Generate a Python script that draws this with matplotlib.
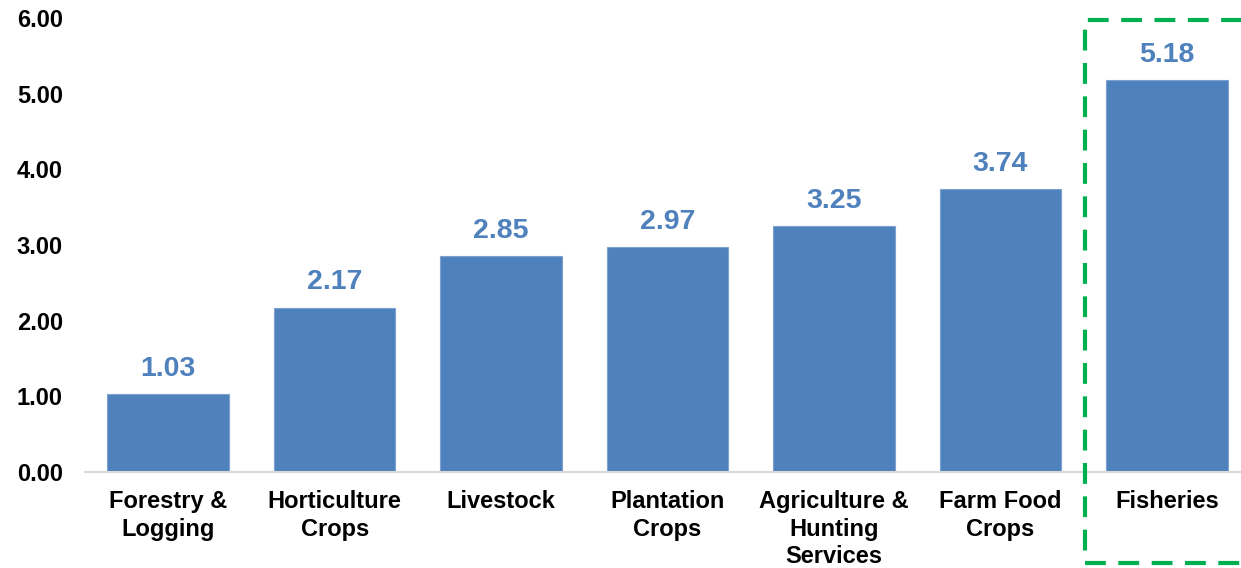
import matplotlib
matplotlib.use("Agg")
import matplotlib.pyplot as plt
from matplotlib.patches import Rectangle

categories = ["Forestry &\nLogging", "Horticulture\nCrops", "Livestock", "Plantation\nCrops",
              "Agriculture &\nHunting\nServices", "Farm Food\nCrops", "Fisheries"]
values = [1.03, 2.17, 2.85, 2.97, 3.25, 3.74, 5.18]
yticks = [0, 1, 2, 3, 4, 5, 6]

bar_color = "#4F81BD"
plt.rcParams["font.family"] = ["Liberation Sans", "DejaVu Sans"]

fig = plt.figure(figsize=(12.41, 5.68), dpi=100)
ax = fig.add_axes([85 / 1241, 1 - 472 / 568, (1250 - 85) / 1241, (472 - 18) / 568])

x = list(range(len(values)))
ax.bar(x, values, width=0.73, color=bar_color, edgecolor="#7EA2CF", linewidth=0.8, zorder=2)

for xi, v in zip(x, values):
    ax.annotate(f"{v:.2f}", (xi, v), xytext=(0, 9), textcoords="offset points",
                ha="center", va="bottom", fontsize=20.5, fontweight="bold", color=bar_color)

ax.set_xlim(-0.5, 6.5)
ax.set_ylim(0, 6)
ax.set_yticks(yticks)
ax.set_yticklabels([f"{t:.2f}" for t in yticks], fontsize=17, fontweight="bold")
ax.set_xticks(x)
ax.set_xticklabels(categories, fontsize=17, fontweight="bold", linespacing=1.25)
ax.tick_params(axis="y", length=0, pad=16)
ax.tick_params(axis="x", length=0, pad=13)

for side in ("top", "right", "left"):
    ax.spines[side].set_visible(False)
ax.spines["bottom"].set_color("#D9D9D9")
ax.spines["bottom"].set_linewidth(1.5)

# highlight box around the last category
box = Rectangle((1085 / 1241, 1 - 563 / 568), 0.2, (563 - 20) / 568,
                transform=fig.transFigure, fill=False, edgecolor="#00B050",
                linewidth=3, linestyle=(0, (5, 3)), clip_on=False)
fig.add_artist(box)

fig.savefig("out.png", dpi=100)
